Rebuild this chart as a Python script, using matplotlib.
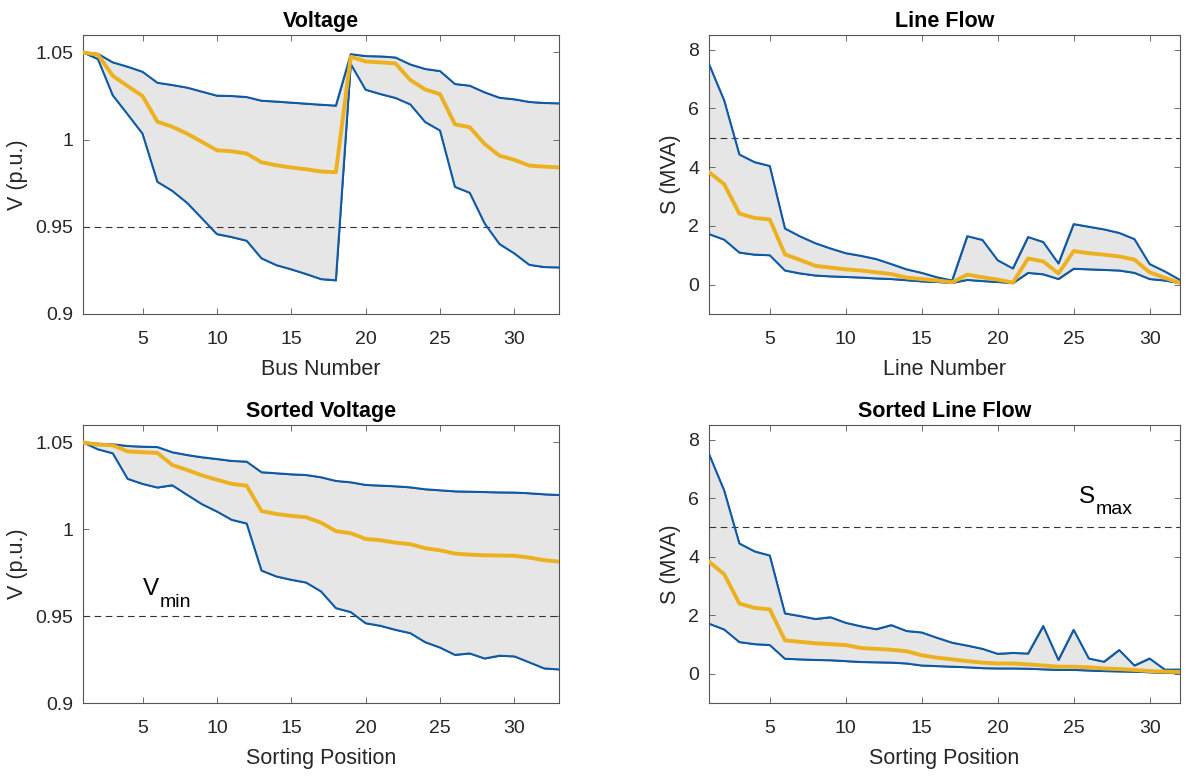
import matplotlib
matplotlib.use("Agg")
import matplotlib.pyplot as plt
import numpy as np
from matplotlib.ticker import FuncFormatter, MultipleLocator
from matplotlib.transforms import offset_copy

plt.rcParams['font.family'] = ['Liberation Sans', 'DejaVu Sans']

# ---------------- Data ----------------
volt_max = [1.05, 1.0492, 1.0443, 1.0418, 1.0389, 1.0326, 1.0313, 1.0298, 1.0275, 1.0252, 1.025,
            1.0244, 1.0223, 1.0218, 1.0212, 1.0206, 1.02, 1.0195, 1.049, 1.0479, 1.0477, 1.0471,
            1.0431, 1.0405, 1.0393, 1.0319, 1.0309, 1.0271, 1.024, 1.0231, 1.0216, 1.021, 1.0208]
volt_min = [1.05, 1.0462, 1.0254, 1.0145, 1.0034, 0.9758, 0.9706, 0.9637, 0.9548, 0.9458, 0.9441,
            0.942, 0.9319, 0.928, 0.9256, 0.9229, 0.92, 0.9193, 1.0433, 1.0286, 1.0261, 1.0239,
            1.0202, 1.0101, 1.0052, 0.9729, 0.9695, 0.9519, 0.9401, 0.9347, 0.9282, 0.9269, 0.9267]
volt_mean = [1.05, 1.0487, 1.0366, 1.0307, 1.025, 1.0103, 1.0074, 1.0034, 0.9987, 0.9939, 0.9933,
             0.992, 0.987, 0.9853, 0.984, 0.983, 0.9817, 0.9813, 1.0475, 1.0448, 1.0443, 1.0437,
             1.0342, 1.0288, 1.0261, 1.0088, 1.0071, 0.9975, 0.9908, 0.9884, 0.9851, 0.9845, 0.9841]

flow_max = [7.51, 6.27, 4.43, 4.17, 4.04, 1.91, 1.64, 1.41, 1.23, 1.07, 0.98, 0.87, 0.70, 0.52,
            0.40, 0.25, 0.14, 1.65, 1.52, 0.83, 0.55, 1.62, 1.45, 0.72, 2.06, 1.97, 1.88, 1.76,
            1.55, 0.70, 0.45, 0.16]
flow_min = [1.72, 1.53, 1.09, 1.02, 1.00, 0.48, 0.38, 0.31, 0.28, 0.26, 0.24, 0.21, 0.19, 0.15,
            0.11, 0.09, 0.06, 0.16, 0.12, 0.09, 0.05, 0.40, 0.35, 0.19, 0.54, 0.52, 0.50, 0.48,
            0.40, 0.19, 0.14, 0.05]
flow_mean = [3.83, 3.42, 2.42, 2.27, 2.22, 1.03, 0.84, 0.64, 0.58, 0.52, 0.48, 0.42, 0.36, 0.24,
             0.19, 0.14, 0.08, 0.34, 0.25, 0.17, 0.07, 0.89, 0.79, 0.38, 1.14, 1.07, 1.02, 0.96,
             0.85, 0.42, 0.23, 0.06]

svolt_max = [1.05, 1.0492, 1.0489, 1.0479, 1.0475, 1.0473, 1.0443, 1.0427, 1.0414, 1.0404, 1.0393,
             1.0389, 1.0328, 1.0322, 1.0316, 1.0312, 1.0299, 1.0278, 1.027, 1.0255, 1.0251, 1.0247,
             1.0241, 1.023, 1.0224, 1.0218, 1.0216, 1.0214, 1.0212, 1.0211, 1.0207, 1.0201, 1.0197]
svolt_min = [1.05, 1.046, 1.0437, 1.029, 1.0261, 1.024, 1.0253, 1.0198, 1.0144, 1.0102, 1.0054,
             1.0033, 0.9762, 0.9728, 0.9709, 0.9693, 0.9642, 0.9546, 0.9523, 0.9459, 0.9444, 0.9421,
             0.9402, 0.935, 0.9319, 0.9277, 0.9285, 0.9256, 0.9272, 0.9268, 0.9234, 0.9199, 0.9193]
svolt_mean = [1.05, 1.0487, 1.0483, 1.0448, 1.0443, 1.0439, 1.037, 1.0341, 1.031, 1.0285, 1.0261,
              1.0251, 1.0105, 1.0088, 1.0077, 1.0069, 1.0038, 0.9989, 0.9977, 0.9944, 0.9937, 0.9923,
              0.9914, 0.9891, 0.9879, 0.986, 0.9854, 0.985, 0.9849, 0.9847, 0.9837, 0.9822, 0.9814]

sflow_max = [7.51, 6.26, 4.45, 4.18, 4.04, 2.06, 1.97, 1.87, 1.93, 1.74, 1.62, 1.52, 1.66, 1.46,
             1.41, 1.23, 1.06, 0.96, 0.85, 0.68, 0.71, 0.69, 1.63, 0.47, 1.50, 0.52, 0.41, 0.81,
             0.28, 0.52, 0.14, 0.14]
sflow_min = [1.71, 1.51, 1.08, 1.01, 0.98, 0.51, 0.49, 0.47, 0.46, 0.43, 0.40, 0.39, 0.38, 0.35,
             0.28, 0.26, 0.24, 0.22, 0.19, 0.18, 0.18, 0.17, 0.15, 0.13, 0.13, 0.11, 0.09, 0.08,
             0.07, 0.05, 0.03, 0.02]
sflow_mean = [3.83, 3.40, 2.40, 2.25, 2.20, 1.14, 1.09, 1.04, 1.01, 0.98, 0.88, 0.85, 0.82, 0.77,
              0.63, 0.55, 0.49, 0.43, 0.38, 0.35, 0.35, 0.32, 0.28, 0.24, 0.24, 0.22, 0.18, 0.16,
              0.13, 0.09, 0.07, 0.06]

V_MIN = 0.95
S_MAX = 5.0

BLUE = '#0D5AA8'
ORANGE = '#EDB120'
FILL = '#E6E6E6'
TXT = '#262626'

fig = plt.figure(figsize=(11.88, 7.76), dpi=100)

W_L, W_R = 476 / 1188, 471 / 1188
boxes = [
    [83 / 1188, (776 - 314) / 776, W_L, 279 / 776],
    [709 / 1188, (776 - 314) / 776, W_R, 279 / 776],
    [83 / 1188, (776 - 703) / 776, W_L, 278 / 776],
    [709 / 1188, (776 - 703) / 776, W_R, 278 / 776],
]

panels = [
    ("Voltage", "Bus Number", "V (p.u.)", volt_min, volt_max, volt_mean, V_MIN, (0.9, 1.06)),
    ("Line Flow", "Line Number", "S (MVA)", flow_min, flow_max, flow_mean, S_MAX, (-1, 8.5)),
    ("Sorted Voltage", "Sorting Position", "V (p.u.)", svolt_min, svolt_max, svolt_mean, V_MIN, (0.9, 1.06)),
    ("Sorted Line Flow", "Sorting Position", "S (MVA)", sflow_min, sflow_max, sflow_mean, S_MAX, (-1, 8.5)),
]

fmt = FuncFormatter(lambda v, p: f"{v:g}")


def label_with_sub(ax, x, y, main, sub):
    t = ax.text(x, y, main, fontsize=17.5, color='black', ha='left', va='baseline')
    fig.canvas.draw()
    bb = t.get_window_extent()
    w_pts = bb.width * 72 / fig.dpi
    tr = offset_copy(ax.transData, fig=fig, x=w_pts + 0.5, y=-8.5, units='points')
    ax.text(x, y, sub, fontsize=14, color='black', ha='left', va='baseline', transform=tr)


for box, (title, xl, yl, lo, hi, mean, lim, ylim) in zip(boxes, panels):
    ax = fig.add_axes(box)
    n = len(lo)
    x = np.arange(1, n + 1)
    ax.fill_between(x, lo, hi, facecolor=FILL, edgecolor='#333333', linewidth=0.6, zorder=1)
    ax.axhline(lim, color='#333333', linestyle=(0, (6, 4)), linewidth=0.8, zorder=2)
    ax.plot(x, hi, color=BLUE, linewidth=1.5, zorder=3)
    ax.plot(x, lo, color=BLUE, linewidth=1.5, zorder=3)
    ax.plot(x, mean, color=ORANGE, linewidth=2.8, zorder=4)
    ax.set_xlim(1, n)
    ax.set_ylim(*ylim)
    ax.xaxis.set_major_locator(MultipleLocator(5))
    if ylim[0] == 0.9:
        ax.set_yticks([0.9, 0.95, 1.0, 1.05])
    else:
        ax.set_yticks([0, 2, 4, 6, 8])
    ax.yaxis.set_major_formatter(fmt)
    ax.tick_params(direction='in', top=True, right=True, length=4, width=0.6,
                   colors='#555555', labelcolor=TXT, labelsize=14)
    ax.tick_params(axis='x', pad=12)
    ax.tick_params(axis='y', pad=7)
    for s in ax.spines.values():
        s.set_color('#555555')
        s.set_linewidth(0.8)
    ax.set_title(title, fontsize=15.5, fontweight='bold', color='black', pad=6)
    ax.set_xlabel(xl, fontsize=15.5, color=TXT, labelpad=8)
    ax.set_ylabel(yl, fontsize=15.5, color=TXT, labelpad=5)
    if title == "Sorted Voltage":
        label_with_sub(ax, 5.0, 0.962, "V", "min")
    if title == "Sorted Line Flow":
        label_with_sub(ax, 25.35, 5.85, "S", "max")

fig.savefig("out.png", dpi=100)
